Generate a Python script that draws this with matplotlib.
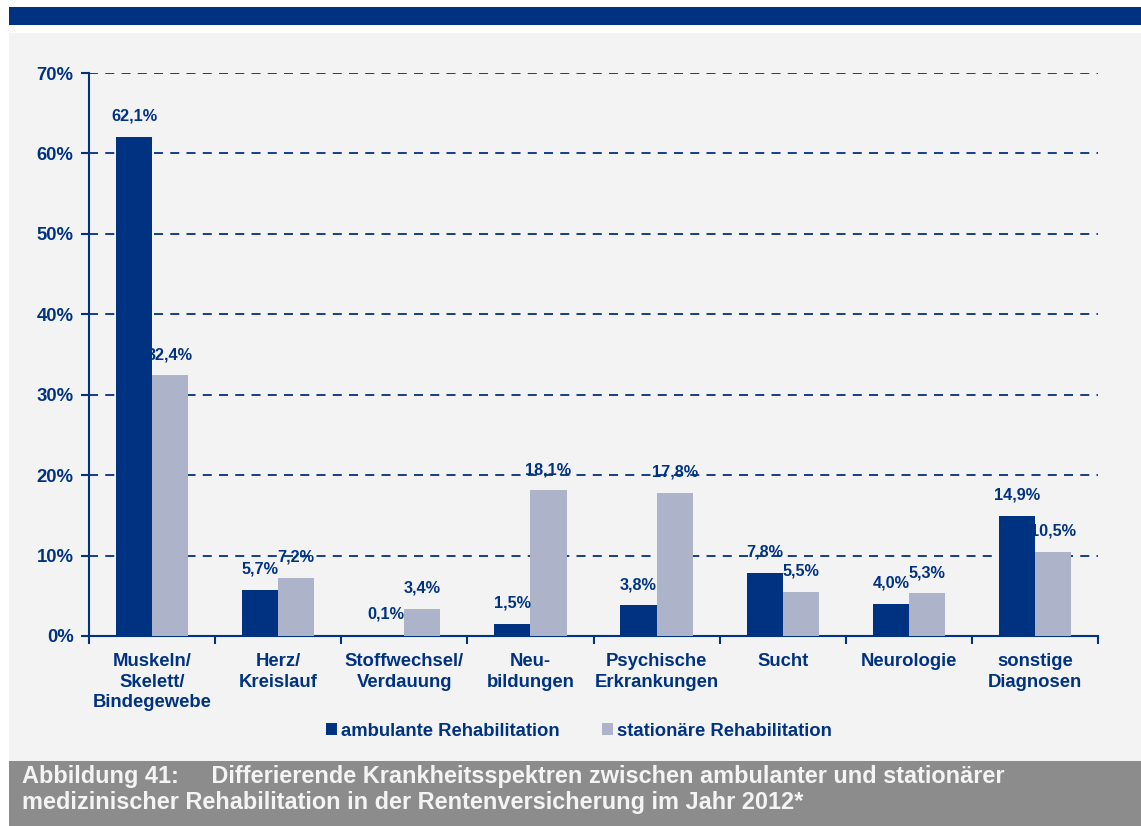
import matplotlib
matplotlib.use("Agg")
import matplotlib.pyplot as plt
from matplotlib.patches import Rectangle
import numpy as np

plt.rcParams['font.family'] = ['Liberation Sans', 'DejaVu Sans']
plt.rcParams['font.weight'] = 'bold'

categories = ["Muskeln/\nSkelett/\nBindegewebe", "Herz/\nKreislauf", "Stoffwechsel/\nVerdauung",
              "Neu-\nbildungen", "Psychische\nErkrankungen", "Sucht", "Neurologie",
              "sonstige\nDiagnosen"]
ambulant = [62.1, 5.7, 0.1, 1.5, 3.8, 7.8, 4.0, 14.9]
stationaer = [32.4, 7.2, 3.4, 18.1, 17.8, 5.5, 5.3, 10.5]
series_names = ["ambulante Rehabilitation", "stationäre Rehabilitation"]
y_ticks = [0, 10, 20, 30, 40, 50, 60, 70]
caption_lines = ["Abbildung 41:     Differierende Krankheitsspektren zwischen ambulanter und stationärer",
                 "medizinischer Rehabilitation in der Rentenversicherung im Jahr 2012*"]

NAVY = "#003282"
GREY_BAR = "#adb3c8"
PANEL = "#f3f3f3"

W, H = 1141, 826
fig = plt.figure(figsize=(W / 100, H / 100), dpi=100)
fig.patch.set_facecolor("white")

def px_rect(x0, y0, x1, y1, color):
    fig.patches.append(Rectangle((x0 / W, 1 - y1 / H), (x1 - x0) / W, (y1 - y0) / H,
                                 transform=fig.transFigure, color=color, zorder=-10, lw=0))

px_rect(9, 7, W, 25, "#003282")
px_rect(9, 33, W, 761, PANEL)
px_rect(9, 761, W, H, "#8c8c8c")

ax = fig.add_axes([89 / W, 1 - 636 / H, (1098 - 89) / W, (636 - 73) / H])
ax.set_facecolor(PANEL)

n = len(categories)
x = np.arange(n)
bw = 0.286
b1 = ax.bar(x - bw / 2, ambulant, bw, color=NAVY, zorder=3, label=series_names[0])
b2 = ax.bar(x + bw / 2, stationaer, bw, color=GREY_BAR, zorder=3, label=series_names[1])

def fmt(v):
    return f"{v:.1f}%".replace(".", ",")

for bars, vals in ((b1, ambulant), (b2, stationaer)):
    for rect, v in zip(bars, vals):
        ax.annotate(fmt(v), (rect.get_x() + rect.get_width() / 2, v),
                    xytext=(0, 15), textcoords="offset points",
                    ha="center", va="center", fontsize=11.7, color=NAVY, fontweight="bold")

ax.set_xlim(-0.5, n - 0.5)
ax.set_ylim(0, 70)
ax.set_yticks(y_ticks)
ax.set_yticklabels([f"{t}%" for t in y_ticks], fontsize=13.3, color=NAVY, fontweight="bold")
for t in y_ticks[1:]:
    ax.axhline(t, color=NAVY, lw=1.3, ls=(0, (5, 4)), zorder=1)

ax.set_xticks(x)
ax.set_xticklabels(categories, fontsize=13.3, color=NAVY, fontweight="bold", linespacing=1.3)
ax.tick_params(axis="x", length=0, pad=12)
ax.set_xticks(np.arange(n + 1) - 0.5, minor=True)
ax.tick_params(axis="x", which="minor", length=6, width=1.5, color=NAVY, direction="out")
ax.tick_params(axis="y", length=6, width=1.5, color=NAVY, pad=5)

for s in ("top", "right"):
    ax.spines[s].set_visible(False)
for s in ("left", "bottom"):
    ax.spines[s].set_color(NAVY)
    ax.spines[s].set_linewidth(1.5)

leg = fig.legend(handles=[b1, b2], loc="center", bbox_to_anchor=(579 / W, 1 - 731 / H),
                 ncol=2, frameon=False, handlelength=0.6, handleheight=0.6,
                 handletextpad=0.2, columnspacing=2.3,
                 prop={"size": 13.3, "weight": "bold"})
for t in leg.get_texts():
    t.set_color(NAVY)

for i, line in enumerate(caption_lines):
    fig.text(22 / W, 1 - (776 + 26 * i) / H, line, ha="left", va="center",
             fontsize=16.9, color="#f4f4f4", fontweight="bold")

fig.savefig("out.png", dpi=100, facecolor=fig.get_facecolor())
